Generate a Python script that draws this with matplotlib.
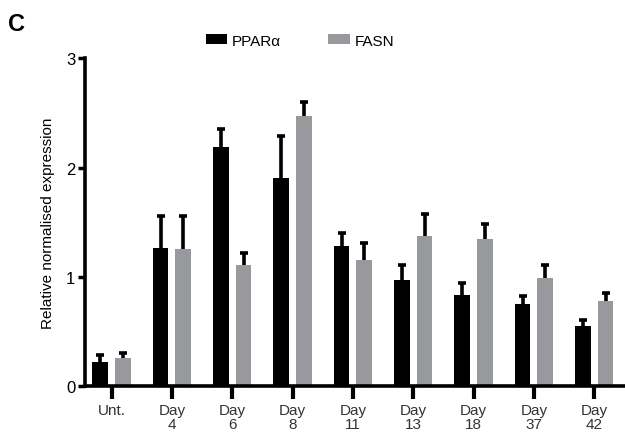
import matplotlib
matplotlib.use("Agg")
import matplotlib.pyplot as plt
import numpy as np

plt.rcParams['font.family'] = ['Liberation Sans', 'DejaVu Sans']

categories = ["Unt.", "Day\n4", "Day\n6", "Day\n8", "Day\n11", "Day\n13", "Day\n18", "Day\n37", "Day\n42"]
ppar = [0.22, 1.26, 2.19, 1.90, 1.28, 0.97, 0.83, 0.75, 0.55]
ppar_err = [0.06, 0.30, 0.16, 0.39, 0.12, 0.14, 0.11, 0.07, 0.05]
fasn = [0.26, 1.25, 1.11, 2.47, 1.15, 1.375, 1.35, 0.99, 0.78]
fasn_err = [0.04, 0.31, 0.11, 0.13, 0.16, 0.20, 0.13, 0.12, 0.07]

fig = plt.figure(figsize=(6.25, 4.39), dpi=100)
ax = fig.add_axes([0.136, 0.1185, 0.864, 0.7465])

x = np.arange(len(categories))
w = 0.26
off = 0.187
black = "#000000"
gray = "#98999d"

ax.bar(x - off, ppar, w, color=black, label="PPARα", zorder=2)
ax.bar(x + off, fasn, w, color=gray, label="FASN", zorder=2)

for xs, vals, errs in [(x - off, ppar, ppar_err), (x + off, fasn, fasn_err)]:
    eb = ax.errorbar(xs, vals, yerr=[np.zeros(len(vals)), errs], fmt="none",
                     ecolor="black", elinewidth=2.6, capsize=3.2, capthick=2.6,
                     zorder=3)
    caps = eb[1]
    if len(caps) == 2:
        caps[0].set_visible(False)

ax.set_xlim(-0.44, 8.51)
ax.set_ylim(0, 3)
ax.set_yticks([0, 1, 2, 3])
ax.set_xticks(x)
ax.set_xticklabels(categories, fontsize=11, color="#333333", linespacing=1.0)
ax.tick_params(axis='y', labelsize=12, width=2.5, length=5, pad=2)
ax.tick_params(axis='x', width=3, length=9, pad=3)

for s in ["top", "right"]:
    ax.spines[s].set_visible(False)
ax.spines["left"].set_linewidth(2.6)
ax.spines["bottom"].set_linewidth(2.6)

ax.set_ylabel("Relative normalised expression", fontsize=11, labelpad=8)

ax.legend(loc="upper center", bbox_to_anchor=(0.398, 1.117), ncol=2, frameon=False,
          fontsize=11, handlelength=1.4, handleheight=0.6, columnspacing=3.1,
          handletextpad=0.3)

fig.text(0.013, 0.93, "C", fontsize=17, fontweight="bold")

fig.savefig("out.png", dpi=100)
